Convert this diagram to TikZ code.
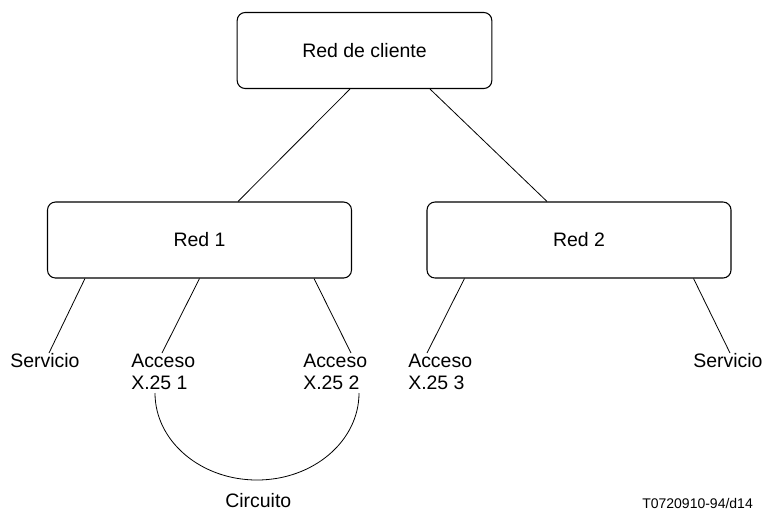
\documentclass[tikz,border=0pt]{standalone}
\usepackage{fontspec}
\setmainfont{Liberation Sans}
\usepackage{tikz}
\usetikzlibrary{calc}

\begin{document}
\begin{tikzpicture}[x=0.75pt,y=-0.75pt,line join=round,
    netbox/.style={draw,line width=0.8pt,rounded corners=6pt,minimum width=228pt,minimum height=57pt,inner sep=0pt,font=\fontsize{14.6}{16.5}\selectfont},
    lbl/.style={anchor=base west,inner sep=0pt,align=left,font=\fontsize{14.6}{16.5}\selectfont},
    link/.style={line width=0.6pt}]
  \useasboundingbox (0,0) rectangle (766,511);
  \node[netbox,minimum width=191pt] (RC) at (364.5,50.5) {Red de cliente};
  \node[netbox] (R1) at (199.5,240) {Red 1};
  \node[netbox] (R2) at (579,240) {Red 2};
  \coordinate (S1) at (49,353);
  \coordinate (A1) at (162,353);
  \coordinate (A2) at (351,353);
  \coordinate (A3) at (427,353);
  \coordinate (S2) at (730,353);
  \coordinate (CL) at (155,393);
  \node[lbl] (TS1) at (10,367) {Servicio};
  \node[lbl] (TA1) at (131,389) {Acceso\\X.25 1};
  \node[lbl] (TA2) at (303,389) {Acceso\\X.25 2};
  \node[lbl] (TA3) at (408,389) {Acceso\\X.25 3};
  \node[lbl] (TS2) at (693,367) {Servicio};
  \node[lbl] (TC) at (225,507) {Circuito};
  \node[lbl,font=\fontsize{10.5}{12}\selectfont] (REF) at (642,508) {T0720910-94/d14};
  \draw[link] ($(RC.south)+(-14.5,0)$) -- ($(R1.north)+(38.5,0)$);
  \draw[link] ($(RC.south)+(65.5,0)$) -- ($(R2.north)+(-32,0)$);
  \draw[link] ($(R1.south west)+(38,0)$) -- (S1);
  \draw[link] (R1.south) -- (A1);
  \draw[link] ($(R1.south east)+(-38,0)$) -- (A2);
  \draw[link] ($(R2.south west)+(38,0)$) -- (A3);
  \draw[link] ($(R2.south east)+(-38,0)$) -- (S2);
  \draw[link] (CL) arc[start angle=180,end angle=0,x radius=102,y radius=87];
\end{tikzpicture}
\end{document}
